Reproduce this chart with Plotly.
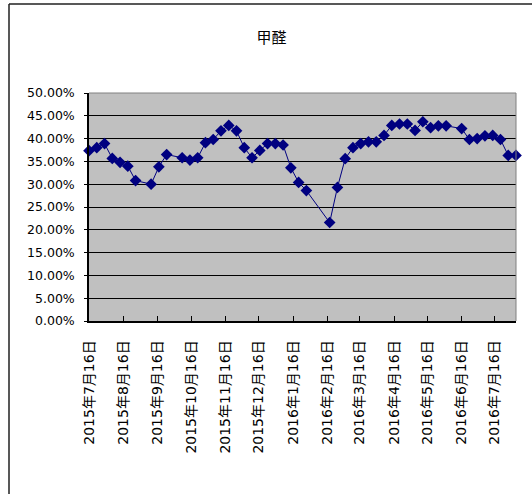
import plotly.graph_objects as go

dates = [
    "2015-07-16", "2015-07-23", "2015-07-30", "2015-08-06", "2015-08-13", "2015-08-20",
    "2015-08-27", "2015-09-10", "2015-09-17", "2015-09-24", "2015-10-08", "2015-10-15",
    "2015-10-22", "2015-10-29", "2015-11-05", "2015-11-12", "2015-11-19", "2015-11-26",
    "2015-12-03", "2015-12-10", "2015-12-17", "2015-12-24", "2015-12-31", "2016-01-07",
    "2016-01-14", "2016-01-21", "2016-01-28", "2016-02-18", "2016-02-25", "2016-03-03",
    "2016-03-10", "2016-03-17", "2016-03-24", "2016-03-31", "2016-04-07", "2016-04-14",
    "2016-04-21", "2016-04-28", "2016-05-05", "2016-05-12", "2016-05-19", "2016-05-26",
    "2016-06-02", "2016-06-16", "2016-06-23", "2016-06-30", "2016-07-07", "2016-07-14",
    "2016-07-21", "2016-07-28", "2016-08-04",
]
values = [
    0.3735, 0.380, 0.389, 0.3565, 0.348, 0.3395,
    0.308, 0.300, 0.338, 0.365, 0.358, 0.353,
    0.358, 0.391, 0.398, 0.417, 0.429, 0.417,
    0.380, 0.358, 0.374, 0.389, 0.389, 0.386,
    0.336, 0.304, 0.286, 0.216, 0.293, 0.356,
    0.380, 0.389, 0.393, 0.393, 0.407, 0.429,
    0.432, 0.432, 0.418, 0.437, 0.424, 0.428,
    0.428, 0.422, 0.398, 0.400, 0.406, 0.407,
    0.398, 0.363, 0.363,
]
tick_dates = [
    "2015-07-16", "2015-08-16", "2015-09-16", "2015-10-16", "2015-11-16", "2015-12-16",
    "2016-01-16", "2016-02-16", "2016-03-16", "2016-04-16", "2016-05-16", "2016-06-16",
    "2016-07-16",
]
tick_labels = [
    "2015年7月16日", "2015年8月16日", "2015年9月16日", "2015年10月16日", "2015年11月16日",
    "2015年12月16日", "2016年1月16日", "2016年2月16日", "2016年3月16日", "2016年4月16日",
    "2016年5月16日", "2016年6月16日", "2016年7月16日",
]
y_ticks = [0, 0.05, 0.10, 0.15, 0.20, 0.25, 0.30, 0.35, 0.40, 0.45, 0.50]
title_text = "甲醛"

FONT = "DejaVu Sans, Noto Sans CJK SC, sans-serif"

fig = go.Figure()
fig.add_trace(go.Scatter(
    x=dates, y=values, mode="lines+markers",
    line=dict(color="#000080", width=1),
    marker=dict(symbol="diamond", size=9, color="#000080"),
    cliponaxis=False, showlegend=False,
))

L, R, T, B = 89, 516, 93, 321
W, H = 532, 494

def px(xp):
    return (xp - L) / (R - L)

def py(yp):
    return (B - yp) / (B - T)

shapes = [
    # plot area top and right border (gray)
    dict(type="line", xref="paper", yref="paper", x0=0, x1=1, y0=1, y1=1,
         line=dict(color="#808080", width=1)),
    dict(type="line", xref="paper", yref="paper", x0=1, x1=1, y0=0, y1=1,
         line=dict(color="#808080", width=1)),
    # outer chart border (left and top)
    dict(type="line", xref="paper", yref="paper", x0=px(9), x1=px(9), y0=py(4), y1=py(494),
         line=dict(color="#202020", width=1.5)),
    dict(type="line", xref="paper", yref="paper", x0=px(9), x1=px(532), y0=py(4), y1=py(4),
         line=dict(color="#202020", width=1.5)),
]

fig.update_layout(
    width=W, height=H,
    margin=dict(l=L, r=W - R, t=T, b=H - B, pad=0, autoexpand=False),
    paper_bgcolor="white",
    plot_bgcolor="#C0C0C0",
    font=dict(family=FONT, color="black"),
    title=dict(text=title_text, x=271.5 / W, xref="container", xanchor="center",
               y=1 - 37.5 / H, yref="container", yanchor="middle",
               font=dict(size=15, family=FONT, color="black")),
    shapes=shapes,
    xaxis=dict(
        type="date",
        range=["2015-07-16", "2016-08-04"],
        tickvals=tick_dates, ticktext=tick_labels,
        tickangle=-90,
        ticks="inside", ticklen=5, tickcolor="black", tickwidth=1,
        showline=True, linecolor="black", linewidth=1.5,
        showgrid=False, zeroline=False, automargin=False,
        tickfont=dict(size=14, family=FONT, color="black"),
        ticklabelstandoff=12,
    ),
    yaxis=dict(
        range=[0, 0.5],
        tickvals=y_ticks, tickformat=".2%",
        ticks="outside", ticklen=3, tickcolor="black",
        showline=True, linecolor="black", linewidth=1.5,
        showgrid=True, gridcolor="black", gridwidth=1,
        zeroline=False, automargin=False,
        tickfont=dict(size=12.5, family=FONT, color="black"),
        ticklabelstandoff=7,
    ),
)

fig.write_html("out.html", config={"displayModeBar": False},
               post_script="document.body.style.margin='0';")
